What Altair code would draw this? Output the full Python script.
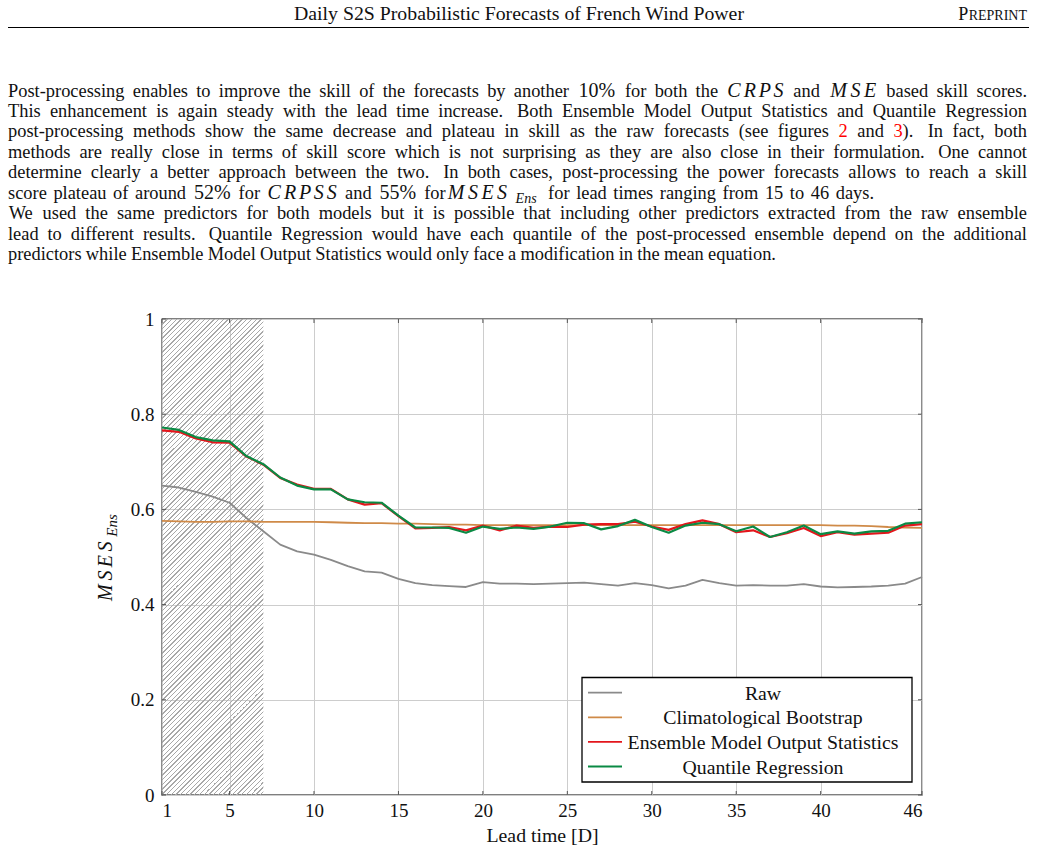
import string
import pandas as pd
import altair as alt

# ---------------------------------------------------------------- data
days = list(range(1, 47))

raw = [0.650, 0.646, 0.637, 0.627, 0.614, 0.582, 0.554, 0.526, 0.512, 0.505,
       0.494, 0.481, 0.470, 0.467, 0.454, 0.445, 0.441, 0.439, 0.437, 0.447,
       0.444, 0.444, 0.443, 0.444, 0.445, 0.446, 0.443, 0.440, 0.445, 0.441,
       0.434, 0.440, 0.452, 0.445, 0.440, 0.441, 0.440, 0.440, 0.443, 0.438,
       0.436, 0.437, 0.438, 0.440, 0.444, 0.458]

clim = [0.576, 0.575, 0.574, 0.574, 0.575, 0.575, 0.574, 0.574, 0.574, 0.574,
        0.573, 0.572, 0.571, 0.571, 0.570, 0.570, 0.569, 0.568, 0.568, 0.567,
        0.567, 0.567, 0.567, 0.567, 0.567, 0.567, 0.567, 0.567, 0.567, 0.567,
        0.567, 0.567, 0.567, 0.567, 0.567, 0.567, 0.567, 0.567, 0.567, 0.567,
        0.566, 0.566, 0.565, 0.563, 0.562, 0.561]

emos = [0.766, 0.763, 0.749, 0.741, 0.740, 0.711, 0.694, 0.666, 0.652, 0.643,
        0.643, 0.621, 0.610, 0.613, 0.586, 0.560, 0.561, 0.563, 0.556, 0.566,
        0.556, 0.566, 0.561, 0.564, 0.563, 0.568, 0.569, 0.569, 0.574, 0.564,
        0.557, 0.569, 0.577, 0.569, 0.552, 0.556, 0.542, 0.550, 0.561, 0.544,
        0.552, 0.547, 0.549, 0.551, 0.566, 0.569]

qr = [0.772, 0.767, 0.752, 0.745, 0.743, 0.712, 0.695, 0.667, 0.650, 0.642,
      0.642, 0.621, 0.615, 0.614, 0.587, 0.562, 0.562, 0.561, 0.551, 0.564,
      0.559, 0.562, 0.559, 0.564, 0.572, 0.571, 0.558, 0.565, 0.578, 0.563,
      0.551, 0.566, 0.572, 0.569, 0.554, 0.564, 0.542, 0.552, 0.566, 0.548,
      0.554, 0.549, 0.554, 0.555, 0.570, 0.573]

series_names = ["Raw", "Climatological Bootstrap",
                "Ensemble Model Output Statistics", "Quantile Regression"]
series_values = [raw, clim, emos, qr]
series_colors = ["#8a8a8a", "#cf8a48", "#e3161c", "#0a8a44"]
series_widths = [1.8, 1.8, 2.2, 2.2]

x_ticks = [1, 5, 10, 15, 20, 25, 30, 35, 40, 46]
y_ticks = [0, 0.2, 0.4, 0.6, 0.8, 1]
hatched_days = [1, 7]

header_title = "Daily S2S Probabilistic Forecasts of French Wind Power"
header_tag = ["P", "REPRINT"]

# word markup: "m:" math italic, "n:" math roman, "r:" reference (red),
# "s:" subscript, "|" joins pieces without a space.
# Second item: right edge of the line (full measure, or the ragged end
# of a paragraph's last line).
paragraph = [
    ("Post-processing enables to improve the skill of the forecasts by another n:10% "
     "for both the m:CRPS and m:MSE based skill scores.", 1027),
    ("This enhancement is again steady with the lead time increase. Both Ensemble Model "
     "Output Statistics and Quantile Regression", 1027),
    ("post-processing methods show the same decrease and plateau in skill as the raw "
     "forecasts (see figures r:2 and r:3|). In fact, both", 1027),
    ("methods are really close in terms of skill score which is not surprising as they "
     "are also close in their formulation. One cannot", 1027),
    ("determine clearly a better approach between the two. In both cases, post-processing "
     "the power forecasts allows to reach a skill", 1027),
    ("score plateau of around n:52% for m:CRPSS and n:55% for|m:MSES|s:Ens for lead times "
     "ranging from 15 to 46 days.", 874),
    ("We used the same predictors for both models but it is possible that including other "
     "predictors extracted from the raw ensemble", 1027),
    ("lead to different results. Quantile Regression would have each quantile of the "
     "post-processed ensemble depend on the additional", 1027),
    ("predictors while Ensemble Model Output Statistics would only face a modification in "
     "the mean equation.", 776),
]

# ---------------------------------------------------------------- layout
PAGE_W, PAGE_H = 1037, 854
L, T, W, H = 162, 319, 760, 476
FONT = "Liberation Serif"
INK = "#111111"

TEXT_FS = 18.4
MATH_EM = 21.5
SUB_EM = 15.0
LINE_L = 8.0
BASE0, LEAD = 96.5, 20.45
CHART_FS = 19.8

chars = (" !\"#$%&'()*+,-./0123456789:;<=>?@" + string.ascii_uppercase
         + "[\\]^_`" + string.ascii_lowercase)
widths = ([250, 333, 408, 500, 500, 833, 778, 333, 333, 333, 500, 564, 250, 333, 250, 278]
          + [500] * 10 + [278, 278, 564, 564, 564, 444, 921]
          + [722, 667, 667, 722, 611, 556, 722, 722, 333, 389, 722, 611, 889,
             722, 722, 556, 722, 667, 556, 611, 722, 722, 944, 722, 722, 611]
          + [333, 278, 333, 469, 500, 333]
          + [444, 500, 444, 500, 444, 333, 500, 500, 278, 278, 500, 278, 778,
             500, 500, 500, 500, 333, 389, 278, 500, 500, 722, 500, 500, 444])
TIMES = dict(zip(chars, widths))
CMMI = {"C": 715, "R": 759, "P": 642, "S": 613, "M": 970, "E": 738}
CMR = {**{d: 500 for d in "0123456789"}, "%": 833}
SUBW = {"E": 0.74, "n": 0.62, "s": 0.50}


def pieces(word):
    out = []
    for part in word.split("|"):
        kind, txt = "t", part
        if len(part) > 2 and part[1] == ":" and part[0] in "mnrs":
            kind, txt = part[0], part[2:]
        if kind == "m":
            out += [("m", ch, CMMI[ch] * MATH_EM / 1000) for ch in txt]
        elif kind == "n":
            out.append(("n", txt, sum(CMR[c] for c in txt) * MATH_EM / 1000))
        elif kind == "s":
            out.append(("s", txt, sum(SUBW[c] for c in txt) * SUB_EM + 5.0))
        else:
            out.append((kind, txt, sum(TIMES[c] for c in txt) * TEXT_FS / 1000))
    return out


rows = []
for i, (markup, right) in enumerate(paragraph):
    words = markup.split(" ")
    plist = [pieces(w) for w in words]
    wsum = sum(p[2] for w in plist for p in w)
    weights = [1.5 if w.endswith(".") else 1.0 for w in words[:-1]]
    unit = (right - LINE_L - wsum) / sum(weights)
    x = LINE_L
    y = BASE0 + i * LEAD
    for j, w in enumerate(plist):
        for kind, txt, wd in w:
            shift = 1.0 if kind == "s" else 0.0
            rows.append({"px": x + wd / 2 + shift - L, "py": y - T, "t": txt, "kind": kind})
            x += wd
        if j < len(weights):
            x += unit * weights[j]
text_df = pd.DataFrame(rows)

px_enc = alt.X("px:Q", scale=None, axis=None)
py_enc = alt.Y("py:Q", scale=None, axis=None)

text_styles = {
    "t": dict(fontSize=TEXT_FS, color=INK),
    "r": dict(fontSize=TEXT_FS, color="#ff0000"),
    "m": dict(fontSize=20, color=INK, fontStyle="italic"),
    "n": dict(fontSize=20, color=INK),
    "s": dict(fontSize=14, color=INK, fontStyle="italic", dy=4.5),
}
text_layers = [
    alt.Chart(text_df).transform_filter(alt.datum.kind == k)
    .mark_text(font=FONT, align="center", baseline="alphabetic", **st)
    .encode(x=px_enc, y=py_enc, text="t:N")
    for k, st in text_styles.items()
]

# running header
tag_w = sum(TIMES[c] for c in header_tag[1]) * 14 / 1000
header = [
    alt.Chart(pd.DataFrame({"t": [header_title]})).mark_text(
        font=FONT, fontSize=19.8, color=INK, align="center", baseline="alphabetic"
    ).encode(x=alt.value(519 - L), y=alt.value(19.5 - T), text="t:N"),
    alt.Chart(pd.DataFrame({"t": [header_tag[0]]})).mark_text(
        font=FONT, fontSize=18, color=INK, align="right", baseline="alphabetic"
    ).encode(x=alt.value(1027 - tag_w - 0.5 - L), y=alt.value(19.5 - T), text="t:N"),
    alt.Chart(pd.DataFrame({"t": [header_tag[1]]})).mark_text(
        font=FONT, fontSize=14, color=INK, align="right", baseline="alphabetic"
    ).encode(x=alt.value(1027 - L), y=alt.value(19.5 - T), text="t:N"),
    alt.Chart(pd.DataFrame({"a": [0]})).mark_rule(color="#000", strokeWidth=1.1).encode(
        x=alt.value(LINE_L - L), x2=alt.value(1029 - L), y=alt.value(27.5 - T)),
]

# ---------------------------------------------------------------- plot
x_scale = alt.Scale(domain=[1, 46], nice=False, zero=False)
y_scale = alt.Scale(domain=[0, 1], nice=False)
x_axis = alt.Axis(values=x_ticks, grid=True, ticks=False, domain=False,
                  title="Lead time [D]", labelPadding=6, titlePadding=5)
y_axis = alt.Axis(values=y_ticks, grid=True, ticks=False, domain=False,
                  format=".1~f", title=None, labelPadding=8)
X = alt.X("day:Q", scale=x_scale, axis=x_axis)
Y = alt.Y("value:Q", scale=y_scale, axis=y_axis)

# diagonal hatching of the first lead days, drawn as a striped gradient
hw = (hatched_days[1] - hatched_days[0]) / 45 * W
ratio = H / hw
t_g = (1 + ratio) / (1 + ratio * ratio)
period = 4.7 / (hw + H)
HATCH, CLEAR = "#a8a8a8", "rgba(255,255,255,0)"
stops = []
k = 0
while k * period < 1:
    a = k * period
    b = min(a + 0.28 * period, 1)
    c = min(a + period, 1)
    stops += [{"offset": a, "color": HATCH}, {"offset": b, "color": HATCH},
              {"offset": b, "color": CLEAR}, {"offset": c, "color": CLEAR}]
    k += 1
hatch_fill = {"gradient": "linear", "x1": 0, "y1": 0, "x2": t_g, "y2": t_g * ratio,
              "stops": stops}

hatch = alt.Chart(pd.DataFrame({"day": [hatched_days[0]], "day2": [hatched_days[1]],
                                "value": [0], "value2": [1]})).mark_rect(
    fill=hatch_fill, strokeWidth=0
).encode(x=X, x2="day2:Q", y=Y, y2="value2:Q")

line_layers = []
for name, vals, col, sw in zip(series_names, series_values, series_colors, series_widths):
    df = pd.DataFrame({"day": days, "value": vals, "series": name})
    line_layers.append(
        alt.Chart(df).mark_line(color=col, strokeWidth=sw, strokeJoin="round").encode(x=X, y=Y)
    )

# inward tick marks on all four sides
xt = pd.DataFrame({"day": x_ticks})
yt = pd.DataFrame({"value": y_ticks})
tick_col = "#555555"
ticks = [
    alt.Chart(xt).mark_rule(color=tick_col).encode(x=X, y=alt.value(H), y2=alt.value(H - 4)),
    alt.Chart(xt).mark_rule(color=tick_col).encode(x=X, y=alt.value(0), y2=alt.value(4)),
    alt.Chart(yt).mark_rule(color=tick_col).encode(y=Y, x=alt.value(0), x2=alt.value(4)),
    alt.Chart(yt).mark_rule(color=tick_col).encode(y=Y, x=alt.value(W), x2=alt.value(W - 4)),
]

# y axis title: MSES with subscript Ens, set upright along the axis
yt_rows = []
ybot = 603.0
for ch in "MSES":
    w = CMMI[ch] * MATH_EM / 1000
    yt_rows.append({"px": 112 - L, "py": ybot - w / 2 - T, "t": ch})
    ybot -= w
ytitle = [
    alt.Chart(pd.DataFrame(yt_rows)).mark_text(
        font=FONT, fontSize=20, fontStyle="italic", color=INK, angle=270,
        align="center", baseline="alphabetic"
    ).encode(x=px_enc, y=py_enc, text="t:N"),
    alt.Chart(pd.DataFrame({"px": [116.5 - L], "py": [ybot - 14.5 - T], "t": ["Ens"]})).mark_text(
        font=FONT, fontSize=15, fontStyle="italic", color=INK, angle=270,
        align="center", baseline="alphabetic"
    ).encode(x=px_enc, y=py_enc, text="t:N"),
]

# legend box
LX0, LX1, LY0, LY1 = 582 - L, 912 - L, 677.5 - T, 782 - T
leg_df = pd.DataFrame({
    "name": series_names,
    "color": series_colors,
    "ly": [692.7 - T + 24.6 * i for i in range(len(series_names))],
})
legend = [
    alt.Chart(pd.DataFrame({"a": [0]})).mark_rect(
        fill="white", stroke="black", strokeWidth=1.3
    ).encode(x=alt.value(LX0), x2=alt.value(LX1), y=alt.value(LY0), y2=alt.value(LY1)),
    alt.Chart(leg_df).mark_rule(strokeWidth=1.8).encode(
        x=alt.value(588 - L), x2=alt.value(622 - L), y=alt.Y("ly:Q", scale=None, axis=None),
        color=alt.Color("color:N", scale=None)),
    alt.Chart(leg_df).mark_text(
        font=FONT, fontSize=CHART_FS, color=INK, align="center", baseline="middle", dy=1
    ).encode(x=alt.value(763 - L), y=alt.Y("ly:Q", scale=None, axis=None), text="name:N"),
]

chart = alt.layer(
    hatch, *ticks, *line_layers, *legend, *ytitle, *text_layers, *header
).properties(
    width=W, height=H,
    autosize=alt.AutoSizeParams(type="none"),
    padding={"left": L, "top": T, "right": PAGE_W - L - W, "bottom": PAGE_H - T - H},
    background="white",
).configure_view(
    stroke="black", strokeWidth=1.3
).configure_axis(
    labelFont=FONT, labelFontSize=19, labelColor=INK,
    titleFont=FONT, titleFontSize=CHART_FS, titleFontWeight="normal", titleColor=INK,
    gridColor="#cdcdcd", gridWidth=1,
)

chart.save("out.html", embed_options={"renderer": "svg", "actions": False})
